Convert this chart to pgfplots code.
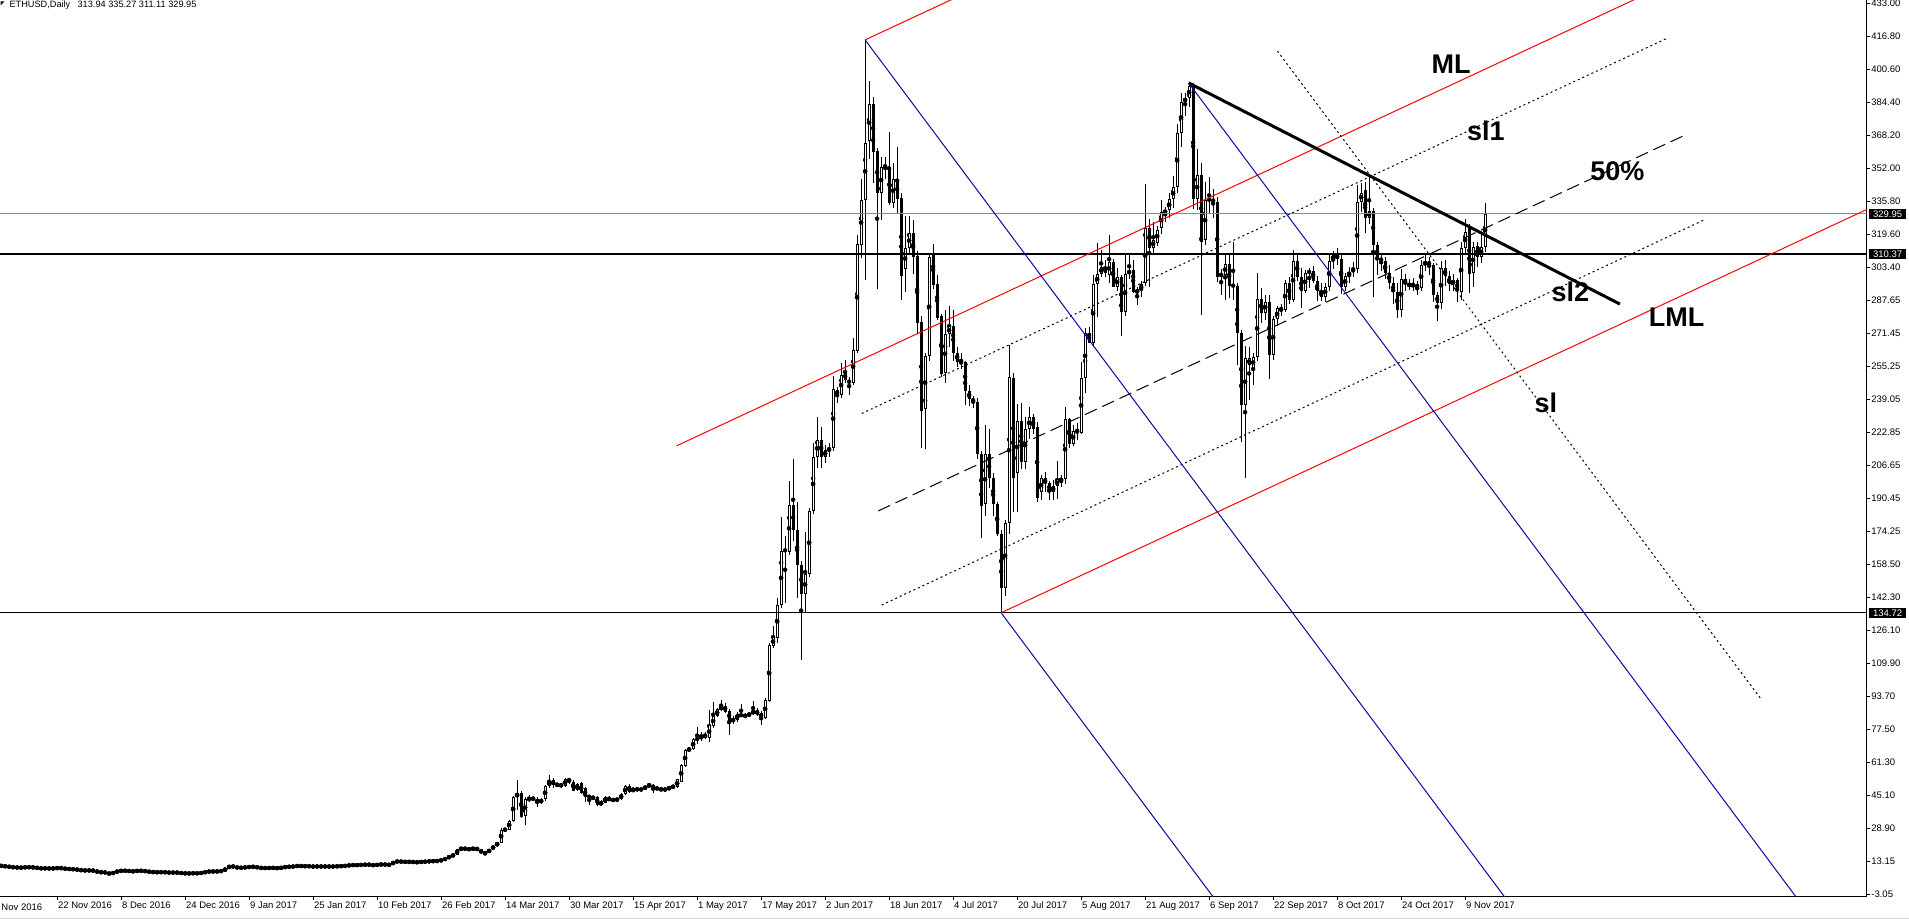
\documentclass[border=0pt]{standalone}
\usepackage{fontspec}
\setmainfont{Liberation Sans}
\usepackage{pgfplots}
\usepackage{pgfplotstable}
\pgfplotsset{compat=1.18}
\newcommand{\tickfont}{\fontsize{9.5}{10}\selectfont}
\newcommand{\lblfont}{\fontsize{27}{30}\selectfont\bfseries}
\definecolor{mtred}{RGB}{255,0,0}
\definecolor{mtblue}{RGB}{10,10,160}
\definecolor{mtgray}{RGB}{128,140,150}
\pgfplotstableread{
d o h l c
-14 10.9 11.0 10.7 10.85
-13 10.85 10.95 10.3 10.55
-12 10.55 10.6 10.25 10.3
-11 10.3 10.35 10.0 10.15
-10 10.15 10.2 9.9 10.0
-9 10.0 10.2 9.6 10.1
-8 10.1 10.3 9.95 10.2
-7 10.2 10.35 10.05 10.15
-6 10.15 10.3 9.9 10.05
-5 10.05 10.15 9.6 9.75
-4 9.75 9.85 9.4 9.6
-3 9.6 9.8 9.5 9.65
-2 9.65 9.75 9.4 9.5
-1 9.5 9.75 9.45 9.7
0 9.7 9.95 9.6 9.85
1 9.85 9.9 9.6 9.7
2 9.7 9.75 9.2 9.3
3 9.3 9.45 9.2 9.35
4 9.35 9.4 9.0 9.1
5 9.1 9.2 8.8 8.95
6 8.95 9.0 8.5 8.6
7 8.6 8.75 8.45 8.6
8 8.6 8.75 8.5 8.65
9 8.65 8.7 8.3 8.45
10 8.45 8.5 7.6 7.75
11 7.75 7.9 7.6 7.7
12 7.7 7.8 7.45 7.55
13 7.55 7.6 6.4 6.9
14 6.9 7.9 6.8 7.75
15 7.75 8.5 7.6 8.35
16 8.35 8.55 8.2 8.45
17 8.45 8.6 8.3 8.5
18 8.5 8.55 8.1 8.2
19 8.2 8.3 8.0 8.2
20 8.2 8.6 8.15 8.5
21 8.5 8.6 8.3 8.4
22 8.4 8.45 8.1 8.2
23 8.2 8.25 7.7 7.8
24 7.8 7.95 7.65 7.85
25 7.85 7.9 7.6 7.65
26 7.65 7.95 7.6 7.85
27 7.85 7.9 7.55 7.65
28 7.65 7.7 7.4 7.55
29 7.55 7.7 7.5 7.6
30 7.6 7.65 7.4 7.55
31 7.55 7.6 7.1 7.2
32 7.2 7.3 7.1 7.2
33 7.2 7.25 7.0 7.15
34 7.15 7.4 7.1 7.3
35 7.3 7.4 7.05 7.15
36 7.15 7.6 7.1 7.55
37 7.55 8.0 7.5 7.9
38 7.9 8.3 7.85 8.2
39 8.2 8.3 7.9 8.0
40 8.0 8.3 7.95 8.2
41 8.2 8.5 8.1 8.4
42 8.4 9.7 8.35 9.6
43 9.6 11.3 9.5 11.0
44 11.0 11.2 9.8 10.2
45 10.2 10.4 9.7 10.05
46 10.05 10.1 9.6 9.85
47 9.85 10.4 9.8 10.3
48 10.3 10.45 10.1 10.3
49 10.3 10.6 10.2 10.5
50 10.5 10.55 9.8 9.9
51 9.9 10.0 9.7 9.8
52 9.8 9.95 9.65 9.8
53 9.8 9.9 9.7 9.8
54 9.8 9.95 9.75 9.9
55 9.9 9.95 9.6 9.65
56 9.65 10.2 9.6 10.1
57 10.1 10.5 10.0 10.4
58 10.4 10.5 10.3 10.4
59 10.4 10.7 10.35 10.6
60 10.6 11.0 10.55 10.95
61 10.95 11.0 10.5 10.6
62 10.6 10.85 10.55 10.8
63 10.8 10.85 10.5 10.55
64 10.55 10.6 10.4 10.5
65 10.5 10.7 10.45 10.6
66 10.6 10.65 10.4 10.5
67 10.5 10.65 10.45 10.6
68 10.6 10.65 10.4 10.5
69 10.5 10.65 10.45 10.55
70 10.55 10.8 10.5 10.7
71 10.7 10.85 10.6 10.8
72 10.8 10.9 10.7 10.85
73 10.85 11.4 10.8 11.3
74 11.3 11.4 11.1 11.2
75 11.2 11.35 11.1 11.3
76 11.3 11.4 11.2 11.3
77 11.3 11.6 11.25 11.5
78 11.5 11.55 11.3 11.4
79 11.4 11.45 10.9 11.1
80 11.1 11.6 11.0 11.5
81 11.5 11.65 11.4 11.55
82 11.55 11.6 11.35 11.45
83 11.45 11.5 11.2 11.35
84 11.35 13.3 11.3 13.1
85 13.1 13.2 12.8 12.9
86 12.9 13.1 12.8 12.9
87 12.9 12.95 12.6 12.75
88 12.75 12.95 12.7 12.8
89 12.8 12.85 12.6 12.75
90 12.75 12.8 12.4 12.6
91 12.6 13.0 12.55 12.9
92 12.9 13.0 12.7 12.9
93 12.9 13.3 12.85 13.2
94 13.2 13.4 12.9 13.2
95 13.2 13.4 13.0 13.3
96 13.3 14.0 13.2 13.7
97 13.8 14.8 13.6 14.5
98 14.5 16.0 14.4 15.7
99 15.7 16.5 15.5 16.2
100 16.2 19.2 16.0 18.9
101 18.9 20.3 18.3 19.4
102 19.4 19.8 18.6 19.2
103 19.2 19.6 18.4 18.9
104 18.9 19.8 18.8 19.4
105 19.4 19.6 18.5 19.0
106 18.9 19.0 16.8 17.0
107 17.1 17.6 16.2 17.3
108 17.3 19.2 17.1 19.0
109 19.0 21.0 18.6 20.6
110 20.6 22.5 20.3 22.4
111 22.2 29.5 22.0 28.4
112 28.4 29.6 27.6 28.6
113 28.6 33.5 28.3 33.0
114 33.0 44.8 32.5 44.5
115 44.5 52.9 38.2 46.4
116 46.4 47.5 34.5 35.0
117 35.3 44.7 30.9 43.4
118 43.0 45.5 42.0 43.9
119 43.4 44.8 42.5 44.2
120 43.4 44.5 39.8 41.8
121 41.8 44.0 41.0 43.4
122 43.4 50.4 42.8 49.9
123 49.9 55.3 48.8 52.4
124 52.9 54.0 48.8 50.4
125 50.4 51.5 49.5 50.8
126 50.8 51.5 49.0 49.9
127 49.9 53.8 49.5 53.4
128 53.4 54.0 51.0 52.4
129 52.1 52.9 47.5 47.7
130 48.0 51.2 47.5 50.9
131 51.3 51.8 46.0 46.4
132 48.8 49.3 42.3 44.7
133 45.0 45.6 40.6 44.4
134 44.4 44.9 43.2 44.2
135 44.7 45.2 40.2 40.6
136 40.6 43.0 40.0 42.3
137 41.8 44.9 41.5 44.4
138 44.2 44.8 42.5 42.8
139 43.1 43.6 42.5 43.1
140 43.1 43.8 42.8 43.4
141 43.4 46.4 43.0 46.0
142 46.0 50.4 45.5 49.9
143 49.9 50.9 46.7 47.2
144 47.5 48.8 46.9 48.8
145 48.3 48.8 47.8 48.3
146 48.3 48.9 47.6 48.2
147 48.3 50.2 48.0 49.9
148 49.6 51.5 49.2 50.8
149 50.4 50.9 46.4 48.8
150 48.8 49.5 48.0 48.6
151 48.6 48.9 47.5 48.3
152 48.3 48.8 47.7 48.1
153 48.1 49.9 47.8 49.6
154 49.6 50.2 49.0 49.6
155 49.3 53.5 49.0 53.2
156 52.1 60.5 51.8 60.2
157 59.7 68.0 59.0 67.6
158 67.2 69.0 66.5 68.4
159 67.9 73.5 67.5 72.8
160 72.8 78.7 70.5 73.0
161 72.8 76.5 72.0 74.9
162 75.4 76.5 72.8 73.3
163 73.3 87.1 71.5 79.8
164 79.3 91.2 78.5 84.2
165 84.2 88.0 83.5 87.5
166 87.1 92.0 86.5 89.1
167 89.1 90.5 85.5 86.3
168 86.7 87.5 74.9 81.9
169 82.0 84.0 80.5 82.3
170 82.3 86.0 81.5 85.0
171 85.0 90.1 83.5 84.2
172 84.2 85.5 83.0 84.5
173 84.5 86.0 84.0 85.0
174 85.0 91.7 84.5 87.1
175 87.1 88.0 84.0 84.7
176 85.5 86.5 79.8 83.5
177 83.4 92.8 82.5 92.0
178 91.5 120.0 91.0 118.9
179 118.6 128.2 117.5 122.7
180 122.5 141.8 119.8 138.5
181 138.5 181.4 137.0 165.1
182 165.1 172.3 139.3 165.5
183 164.6 199.4 163.0 187.5
184 187.5 210.0 170.0 175.2
185 175.2 189.1 141.8 158.1
186 158.1 160.0 111.6 143.7
187 143.7 174.4 134.9 153.5
188 153.5 186.0 152.0 184.5
189 184.5 218.0 183.0 211.1
190 211.1 230.7 205.4 219.3
191 219.3 225.5 205.4 211.1
192 211.1 217.0 208.0 214.4
193 214.4 218.0 211.0 215.3
194 215.3 250.4 214.0 244.2
195 243.6 245.0 237.4 241.3
196 241.3 256.8 240.0 251.0
197 252.6 258.2 247.0 248.5
198 248.5 250.0 241.3 247.1
199 247.1 269.4 246.0 263.2
200 263.0 319.4 262.0 315.1
201 314.5 347.1 308.3 336.9
202 336.9 415.1 297.6 364.6
203 365.6 395.1 356.9 383.5
204 383.5 387.0 345.0 360.2
205 360.7 362.0 293.2 340.0
206 340.0 357.8 326.7 353.0
207 353.0 357.8 347.0 353.5
208 353.0 369.9 334.5 335.5
209 335.5 354.9 333.0 347.1
210 347.1 362.7 329.7 337.0
211 337.8 340.0 287.9 299.6
212 303.0 329.1 291.8 313.2
213 313.2 329.1 310.0 320.5
214 320.5 327.0 300.5 308.9
215 309.3 312.0 271.4 276.3
216 276.8 280.0 215.6 233.5
217 234.5 262.0 215.1 260.3
218 260.3 310.0 258.0 308.7
219 309.9 315.1 293.0 295.1
220 295.7 300.0 278.0 279.2
221 280.1 281.0 250.0 251.4
222 252.0 283.1 247.1 271.0
223 271.0 285.0 265.0 275.0
224 275.0 283.1 258.0 261.7
225 261.7 265.0 255.0 257.4
226 257.4 262.0 254.0 257.0
227 257.4 258.0 236.4 243.2
228 243.2 246.0 236.0 239.4
229 239.4 241.0 235.0 238.0
230 238.0 240.0 210.0 212.2
231 212.2 214.0 171.4 186.9
232 187.9 226.7 182.1 212.2
233 212.2 224.8 195.7 200.5
234 200.5 203.0 182.1 187.9
235 187.9 189.0 172.4 173.3
236 173.3 175.0 134.72 146.7
237 146.7 180.0 142.8 178.6
238 178.6 265.6 173.3 250.0
239 249.5 252.0 184.0 200.5
240 203.0 236.8 184.0 228.7
241 228.7 237.4 205.0 208.7
242 208.7 230.6 205.0 224.8
243 224.8 235.5 220.0 230.6
244 230.6 232.0 222.0 224.8
245 225.8 228.0 189.0 190.8
246 194.0 202.0 190.0 200.5
247 200.5 203.5 194.0 198.4
248 198.4 199.0 189.9 194.0
249 194.0 199.7 189.9 196.8
250 196.7 209.0 190.3 200.0
251 199.0 202.0 196.5 200.5
252 200.0 235.6 197.7 229.4
253 229.4 230.0 215.2 217.3
254 217.3 226.6 216.3 223.8
255 224.5 227.4 219.3 222.9
256 222.9 257.6 222.0 249.5
257 249.5 273.9 242.1 271.5
258 271.5 274.7 266.6 266.9
259 266.9 300.0 265.0 295.6
260 295.6 315.8 279.3 300.4
261 300.4 312.2 299.2 304.1
262 304.1 307.4 299.2 300.9
263 300.0 319.6 295.9 306.6
264 306.6 308.0 294.0 294.3
265 294.3 303.3 292.0 298.9
266 298.9 300.0 270.2 282.1
267 282.1 309.8 280.0 300.4
268 300.4 310.6 298.0 302.5
269 302.5 307.4 291.0 291.9
270 291.0 294.0 285.3 293.0
271 292.5 297.0 289.4 295.6
272 295.9 344.6 294.6 323.2
273 323.2 327.3 294.3 313.4
274 313.4 326.1 311.0 317.2
275 315.9 324.2 314.0 322.1
276 322.9 336.7 320.0 330.7
277 330.2 333.5 326.0 331.8
278 331.8 340.0 328.0 337.1
279 337.1 348.5 333.0 342.9
280 342.9 373.8 340.0 369.4
281 369.4 389.3 362.8 384.9
282 384.9 389.3 378.0 386.5
283 386.5 394.2 382.0 392.5
284 392.5 394.0 332.2 337.1
285 337.1 361.5 331.8 349.0
286 349.0 354.7 280.5 316.3
287 317.0 345.7 314.7 336.7
288 336.7 348.0 330.0 337.1
289 337.1 342.0 328.0 335.9
290 335.9 338.0 296.7 299.2
291 299.2 303.0 290.0 300.9
292 300.0 309.8 288.0 305.4
293 305.4 310.0 288.6 294.6
294 294.6 316.3 287.8 295.0
295 294.6 296.0 256.0 271.5
296 271.5 273.0 218.5 236.4
297 236.4 265.3 200.5 259.2
298 256.0 264.9 238.8 259.2
299 254.4 262.0 246.0 260.0
300 259.7 300.9 258.0 288.1
301 288.1 293.5 276.4 281.6
302 281.6 290.0 278.0 287.0
303 287.0 290.0 249.0 260.9
304 260.9 280.0 258.4 278.3
305 278.3 285.0 275.0 283.7
306 283.7 286.0 280.0 283.0
307 283.0 297.5 282.0 296.3
308 296.3 299.0 286.0 287.8
309 287.8 312.3 287.0 307.1
310 307.1 309.8 297.0 299.2
311 299.2 303.3 284.0 292.4
312 292.4 302.5 291.0 301.0
313 301.0 303.5 293.5 302.0
314 302.0 304.5 296.0 297.0
315 297.0 299.5 287.5 292.0
316 292.0 296.0 287.5 289.4
317 289.4 296.0 287.0 294.3
318 294.3 309.8 292.0 307.1
319 307.1 312.0 303.0 309.8
320 309.8 313.0 305.0 308.0
321 308.0 310.0 290.5 294.3
322 294.3 301.0 292.0 299.5
323 299.5 304.0 296.0 301.7
324 301.7 306.6 299.0 302.8
325 302.8 344.1 301.0 335.9
326 335.9 345.2 331.0 340.3
327 341.6 345.7 320.4 327.8
328 327.8 348.2 325.0 331.5
329 331.5 333.0 289.4 314.7
330 314.7 316.3 300.0 308.0
331 308.0 310.5 302.0 307.1
332 307.1 309.0 298.0 300.9
333 300.9 305.0 293.0 296.3
334 296.3 299.0 286.0 291.5
335 291.5 296.0 279.0 283.0
336 283.0 302.8 279.5 298.0
337 298.0 300.5 292.0 296.0
338 296.0 298.0 292.5 294.3
339 294.3 298.5 292.0 295.6
340 295.6 297.0 290.0 293.5
341 293.5 307.5 292.0 304.8
342 304.8 309.8 302.0 306.6
343 306.6 309.0 300.0 305.0
344 305.0 306.0 287.0 290.0
345 290.0 291.5 277.5 286.5
346 286.5 307.0 283.5 303.5
347 303.5 307.5 294.5 299.5
348 299.5 302.0 292.0 295.5
349 295.5 300.5 292.0 297.5
350 297.5 298.8 287.0 292.0
351 291.9 316.0 288.0 313.1
352 313.1 327.3 310.0 321.2
353 323.4 325.0 291.0 300.5
354 300.9 316.0 294.3 313.9
355 314.2 316.3 304.0 308.7
356 308.7 319.6 306.0 313.94
357 313.94 335.27 311.11 329.95
}\eth
\begin{document}
\begin{tikzpicture}[x=1pt,y=1pt]
\useasboundingbox (0,0) rectangle (1909,919);
\fill[white] (0,0) rectangle (1909,919);
\draw[black!15, line width=1.5pt] (0,0.75) -- (1909,0.75);
\begin{axis}[
  at={(0pt,22.3pt)}, anchor=south west,
  scale only axis, width=1866.7pt, height=896.7pt,
  xmin=-14.275, xmax=452.4, ymin=-4.24, ymax=434.615,
  axis x line*=bottom, axis y line*=right,
  axis line style={-, black, line width=1pt},
  tick align=outside, major tick length=3.5pt,
  tick style={black, line width=0.8pt},
  xtick pos=left, ytick pos=right,
  xtick={0,16,...,352},
  xticklabels={22 Nov 2016,8 Dec 2016,24 Dec 2016,9 Jan 2017,25 Jan 2017,10 Feb 2017,26 Feb 2017,14 Mar 2017,30 Mar 2017,15 Apr 2017,1 May 2017,17 May 2017,2 Jun 2017,18 Jun 2017,4 Jul 2017,20 Jul 2017,5 Aug 2017,21 Aug 2017,6 Sep 2017,22 Sep 2017,8 Oct 2017,24 Oct 2017,9 Nov 2017},
  ytick={433.00,416.85,400.70,384.55,368.40,352.25,336.10,319.95,303.80,287.65,271.50,255.35,239.20,223.05,206.90,190.75,174.60,158.45,142.30,126.15,110.00,93.85,77.70,61.55,45.40,29.25,13.10,-3.05},
  yticklabels={433.00,416.80,400.60,384.40,368.20,352.00,335.80,319.60,303.40,287.65,271.45,255.25,239.05,222.85,206.65,190.45,174.25,158.50,142.30,126.10,109.90,93.70,77.50,61.30,45.10,28.90,13.15,-3.05},
  xticklabel style={anchor=north west, inner sep=0pt, font=\tickfont, xshift=0.8pt, yshift=-1pt},
  yticklabel style={anchor=west, inner sep=0pt, font=\tickfont, xshift=1pt},
  clip mode=individual,
]
% wicks
\addplot[forget plot, only marks, mark=none,
  error bars/.cd, y dir=both, y explicit, error mark=none,
  error bar style={draw=black, solid, line width=1pt}]
  table[x=d, y expr={(\thisrow{h}+\thisrow{l})/2}, y error expr={(\thisrow{h}-\thisrow{l})/2}] {\eth};
% bodies (black)
\addplot[forget plot, only marks, mark=none,
  error bars/.cd, y dir=both, y explicit, error mark=none,
  error bar style={draw=black, solid, line width=3pt}]
  table[x=d, y expr={(\thisrow{o}+\thisrow{c})/2}, y error expr={max(abs(\thisrow{c}-\thisrow{o})/2,0.25)}] {\eth};
% bull bodies (white inside)
\addplot[forget plot, only marks, mark=none,
  restrict expr to domain={\thisrow{c}-\thisrow{o}}{1.2:100000},
  error bars/.cd, y dir=both, y explicit, error mark=none,
  error bar style={draw=white, solid, line width=1pt}]
  table[x=d, y expr={(\thisrow{o}+\thisrow{c})/2}, y error expr={(\thisrow{c}-\thisrow{o})/2-0.49}] {\eth};
% horizontal levels
\addplot[black, line width=1pt] coordinates {(-20,134.72) (460,134.72)};
\addplot[mtgray, line width=1pt] coordinates {(-20,329.95) (460,329.95)};
\addplot[black, line width=2pt] coordinates {(-20,310.37) (460,310.37)};
% pitchfork (red)
\addplot[mtred, line width=1pt] coordinates {(202,415.1) (240,449.76)};
\addplot[mtred, line width=1pt] coordinates {(154.85,216.4) (420,458.22)};
\addplot[mtred, line width=1pt] coordinates {(236,134.72) (460,339.01)};
% inner lines
\addplot[black, line width=1pt, dash pattern=on 2pt off 3pt] coordinates {(201.15,232.24) (402.8,416.14)};
\addplot[black, line width=1pt, dash pattern=on 13pt off 6pt] coordinates {(205.3,184.57) (407.15,368.65)};
\addplot[black, line width=1pt, dash pattern=on 2pt off 3pt] coordinates {(206.15,138.5) (412.2,327.41)};
\addplot[black, line width=1pt, dash pattern=on 2pt off 3pt] coordinates {(305.1,409.6) (426.15,92.03)};
% blue lines
\addplot[mtblue, line width=1pt] coordinates {(202,415.1) (365,-12.53)};
\addplot[mtblue, line width=1pt] coordinates {(236,134.72) (292,-12.2)};
\addplot[mtblue, line width=1pt] coordinates {(282.9,394.0) (438,-12.9)};
% trend line
\addplot[black, line width=3pt] coordinates {(282.9,394.0) (390.7,285.8)};
% labels
\node[font=\lblfont] at (axis cs:348.5,403.3) {ML};
\node[font=\lblfont] at (axis cs:357.2,370.35) {sl1};
\node[font=\lblfont] at (axis cs:390.1,350.9) {50\%};
\node[font=\lblfont] at (axis cs:378.35,291.85) {sl2};
\node[font=\lblfont] at (axis cs:404.9,279.2) {LML};
\node[font=\lblfont] at (axis cs:372.2,237.6) {sl};
% price boxes
\node[fill=black, text=white, font=\tickfont, inner xsep=3.6pt, inner ysep=1.5pt, anchor=west] at (axis cs:452.4,329.95) [xshift=2.6pt] {329.95};
\node[fill=black, text=white, font=\tickfont, inner xsep=3.6pt, inner ysep=1.5pt, anchor=west] at (axis cs:452.4,310.37) [xshift=2.6pt] {310.37};
\node[fill=black, text=white, font=\tickfont, inner xsep=3.6pt, inner ysep=1.5pt, anchor=west] at (axis cs:452.4,134.72) [xshift=2.6pt] {134.72};
\end{axis}
\node[anchor=north west, inner sep=0pt, font=\tickfont] at (1.3,15.3) {Nov 2016};
\fill[black] (0.5,917.5) -- (4.5,917.5) -- (0.5,913.5) -- cycle;
\node[anchor=west, inner sep=0pt, font=\fontsize{9.2}{10}\selectfont] at (9.3,914) {ETHUSD,Daily\hspace{7.3pt}313.94 335.27 311.11 329.95};
\end{tikzpicture}
\end{document}
